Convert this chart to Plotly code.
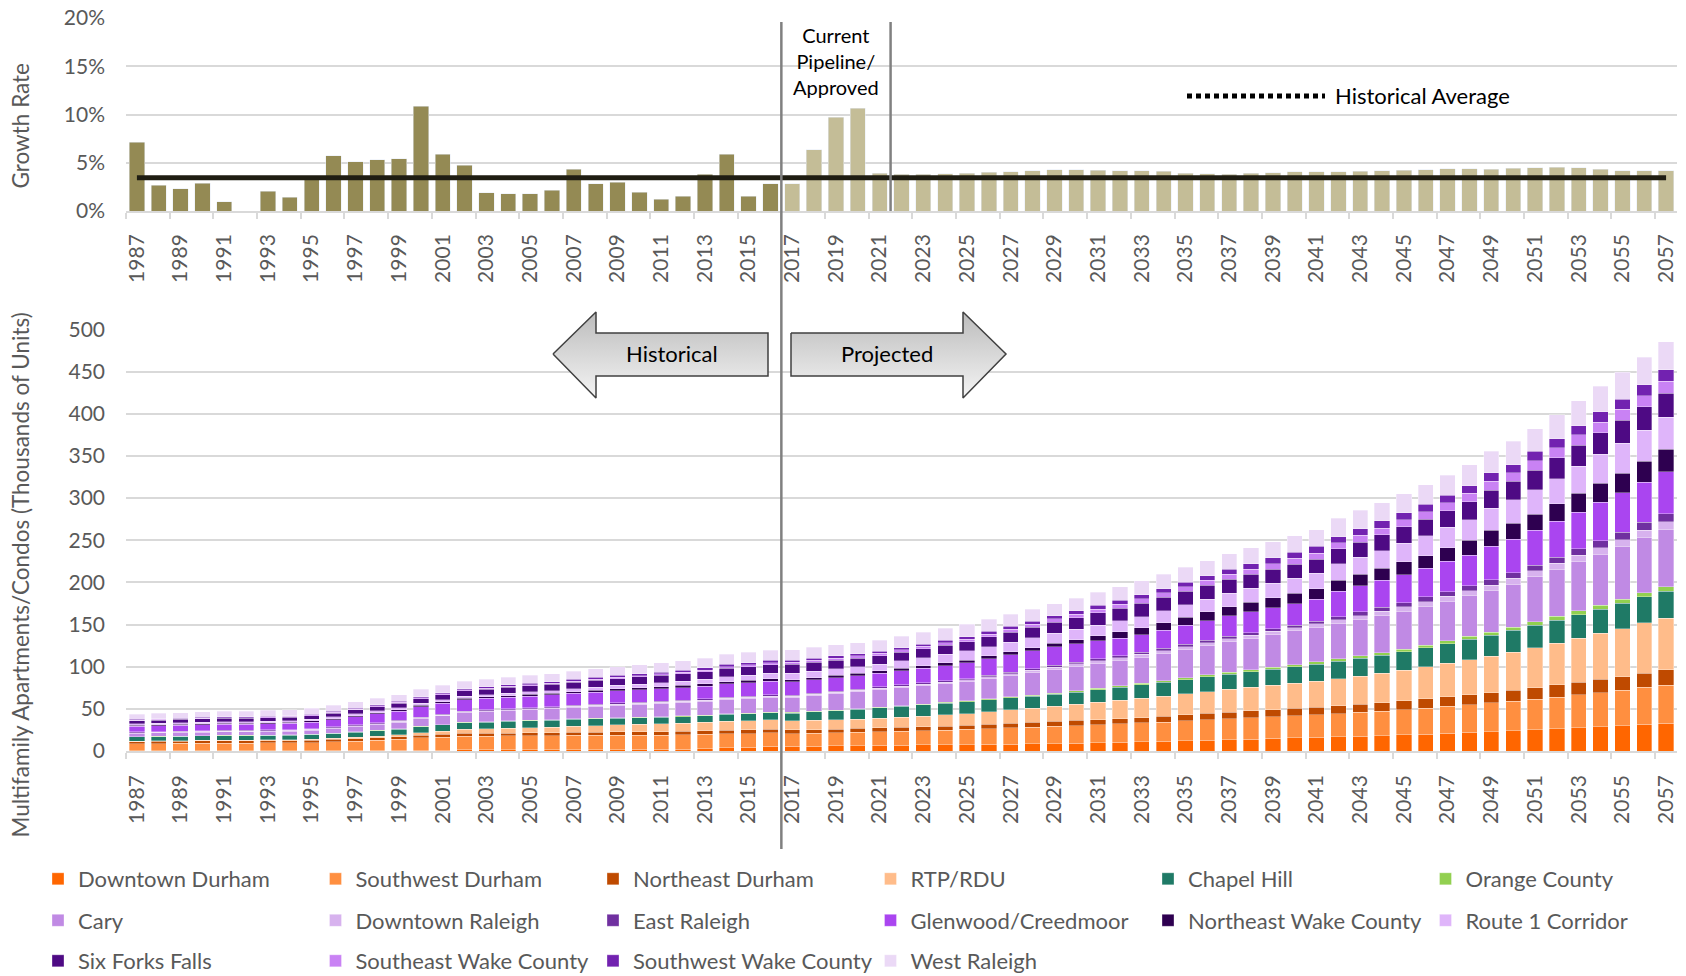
import plotly.graph_objects as go

FONT = "Lato, 'Open Sans', sans-serif"
TEXT_GRAY = "#595959"
GRID_GRAY = "#D9D9D9"

years = list(range(1987, 2058))
last_historical_year = 2016
pipeline_end_year = 2021

# Annual growth rate of the inventory, in percent
growth_rate = [
    7.1, 2.65, 2.3, 2.9, 0.95, 0.0, 2.05, 1.45, 3.6, 5.7,
    5.1, 5.3, 5.4, 10.85, 5.9, 4.75, 1.9, 1.8, 1.8, 2.15,
    4.35, 2.8, 3.0, 1.95, 1.2, 1.55, 3.8, 5.9, 1.55, 2.8,
    2.85, 6.35, 9.7, 10.65, 3.9, 3.8, 3.8, 3.85, 3.9, 4.0,
    4.05, 4.15, 4.25, 4.25, 4.2, 4.15, 4.15, 4.1, 3.9, 3.85,
    3.8, 3.9, 3.95, 4.05, 4.05, 4.05, 4.1, 4.15, 4.2, 4.3,
    4.4, 4.4, 4.35, 4.45, 4.5, 4.55, 4.5, 4.35, 4.15, 4.15,
    4.15,
]
historical_average = 3.45

# Multifamily apartments/condos by submarket, thousands of units (1987-2016 | 2017-2057)
downtown_durham = [
    0.3, 0.3, 0.3, 0.4, 0.4, 0.4, 0.4, 0.5, 0.5, 0.6, 0.7, 0.8, 0.9, 1.0, 1.1,
    1.2, 1.2, 1.3, 1.3, 1.4, 1.5, 1.6, 1.7, 1.8, 1.9, 2.1, 2.6, 4.0, 4.5, 5.5,
    5.6, 5.8, 6.0, 6.4, 6.8, 7.0, 7.2, 7.4, 7.6, 7.9, 8.2, 8.5, 8.8, 9.3, 9.8,
    10.4, 11.0, 11.6, 12.2, 12.9, 13.5, 14.2, 14.9, 15.6, 16.3, 16.9, 17.5, 18.2, 19.0, 20.0,
    21.0, 22.0, 23.0, 24.0, 25.0, 26.2, 27.5, 28.8, 30.2, 31.9, 33.0,
]
southwest_durham = [
    8.4, 8.6, 8.7, 8.9, 9.0, 9.0, 9.1, 9.2, 9.5, 10.2, 11.0, 12.0, 13.0, 14.5, 15.5,
    16.2, 16.3, 16.5, 16.6, 16.7, 17.0, 17.0, 17.1, 17.0, 17.0, 17.0, 17.0, 16.5, 16.2, 16.0,
    14.7, 15.1, 15.5, 15.9, 16.3, 16.7, 17.1, 17.5, 18.0, 18.5, 19.1, 19.7, 20.3, 20.8, 21.3,
    21.8, 22.3, 22.8, 23.4, 24.0, 24.5, 25.0, 25.6, 26.1, 26.7, 27.5, 28.3, 29.1, 30.0, 31.0,
    32.0, 33.0, 34.0, 35.2, 36.5, 37.8, 39.0, 40.5, 42.0, 43.8, 45.0,
]
northeast_durham = [
    2.4, 2.4, 2.5, 2.6, 2.6, 2.6, 2.7, 2.7, 2.8, 2.9, 3.0, 3.0, 3.1, 3.2, 3.3,
    3.4, 3.4, 3.5, 3.5, 3.6, 3.7, 3.8, 3.9, 4.0, 4.1, 4.2, 4.3, 4.4, 4.5, 4.6,
    4.7, 4.6, 4.5, 4.4, 4.4, 4.5, 4.6, 4.7, 4.8, 5.1, 5.4, 5.7, 6.0, 6.1, 6.2,
    6.3, 6.4, 6.8, 7.2, 7.6, 8.0, 8.3, 8.6, 8.9, 9.2, 9.5, 9.8, 10.2, 10.5, 11.0,
    11.5, 12.0, 12.4, 13.0, 13.6, 14.3, 15.0, 15.7, 16.0, 16.5, 18.3,
]
rtp_rdu = [
    0.6, 0.6, 0.7, 0.7, 0.8, 0.8, 0.9, 0.9, 1.0, 1.2, 1.5, 1.8, 2.2, 2.8, 3.5,
    4.8, 5.5, 5.8, 6.2, 6.6, 7.2, 7.8, 8.3, 8.8, 9.2, 9.6, 10.0, 10.5, 10.8, 11.0,
    10.8, 10.9, 11.0, 11.1, 11.2, 11.8, 12.5, 13.2, 14.0, 15.0, 16.0, 17.0, 18.0, 19.2, 20.4,
    21.5, 22.7, 23.8, 24.9, 26.0, 27.0, 28.0, 28.9, 29.8, 30.7, 32.0, 33.3, 34.6, 36.0, 37.7,
    39.4, 41.2, 43.0, 45.2, 47.5, 49.7, 52.0, 54.5, 57.0, 59.8, 61.4,
]
chapel_hill = [
    5.0, 5.1, 5.2, 5.3, 5.4, 5.4, 5.5, 5.6, 5.8, 6.0, 6.3, 6.6, 6.9, 7.2, 7.5,
    7.8, 8.0, 8.0, 8.0, 8.0, 8.0, 8.0, 8.0, 8.0, 8.0, 8.0, 8.0, 8.0, 8.0, 8.0,
    9.2, 10.0, 10.8, 11.6, 12.4, 12.9, 13.4, 13.9, 14.3, 14.3, 14.2, 14.1, 14.0, 14.5, 15.0,
    15.5, 16.0, 16.5, 17.0, 17.5, 18.0, 18.5, 19.0, 19.5, 20.0, 20.5, 21.0, 21.5, 22.0, 22.7,
    23.5, 24.2, 25.0, 25.7, 26.5, 27.2, 28.0, 28.9, 29.8, 30.7, 31.9,
]
orange_county = [
    0.3, 0.3, 0.3, 0.3, 0.3, 0.3, 0.3, 0.3, 0.4, 0.4, 0.4, 0.4, 0.5, 0.5, 0.5,
    0.5, 0.5, 0.6, 0.6, 0.6, 0.6, 0.6, 0.7, 0.7, 0.7, 0.7, 0.7, 0.8, 0.8, 0.8,
    0.8, 0.8, 0.8, 0.8, 0.8, 0.9, 0.9, 1.0, 1.0, 1.1, 1.2, 1.4, 1.5, 1.6, 1.7,
    1.9, 2.0, 2.1, 2.2, 2.3, 2.4, 2.5, 2.6, 2.7, 2.8, 2.9, 3.0, 3.1, 3.2, 3.3,
    3.4, 3.5, 3.6, 3.9, 4.2, 4.5, 4.8, 4.6, 5.0, 5.0, 5.2,
]
cary = [
    4.0, 4.1, 4.2, 4.3, 4.3, 4.3, 4.4, 4.5, 4.8, 5.5, 6.3, 7.0, 7.8, 9.0, 10.2,
    11.2, 11.8, 12.3, 12.8, 13.2, 13.8, 14.2, 14.6, 15.0, 15.4, 15.8, 16.2, 16.8, 17.2, 17.5,
    17.5, 18.4, 19.2, 20.1, 21.0, 21.4, 21.8, 22.2, 22.7, 24.0, 25.3, 26.6, 28.0, 28.8, 29.5,
    30.2, 31.0, 32.2, 33.5, 34.8, 36.0, 37.2, 38.5, 39.8, 41.0, 42.0, 43.0, 44.0, 45.0, 46.0,
    47.0, 48.0, 49.0, 51.0, 53.5, 56.0, 58.2, 60.6, 62.5, 66.0, 68.0,
]
downtown_raleigh = [
    0.8, 0.8, 0.8, 0.8, 0.8, 0.8, 0.9, 0.9, 0.9, 0.9, 1.0, 1.0, 1.0, 1.1, 1.1,
    1.2, 1.2, 1.2, 1.3, 1.3, 1.3, 1.4, 1.4, 1.4, 1.4, 1.5, 1.5, 1.5, 1.5, 1.6,
    1.6, 1.6, 1.7, 1.7, 1.8, 1.8, 1.9, 1.9, 2.0, 2.3, 2.5, 2.8, 3.0, 3.0, 3.1,
    3.1, 3.2, 3.3, 3.5, 3.6, 3.8, 3.8, 3.9, 3.9, 4.0, 4.4, 4.8, 5.2, 5.5, 5.6,
    5.9, 6.0, 6.6, 7.0, 7.0, 7.3, 7.6, 7.8, 8.0, 8.0, 9.2,
]
east_raleigh = [
    0.8, 0.8, 0.8, 0.8, 0.8, 0.8, 0.8, 0.8, 0.9, 0.9, 0.9, 1.0, 1.0, 1.0, 1.1,
    1.1, 1.1, 1.2, 1.2, 1.2, 1.3, 1.3, 1.3, 1.3, 1.4, 1.4, 1.4, 1.4, 1.5, 1.5,
    1.5, 1.5, 1.5, 1.5, 1.5, 1.5, 1.5, 1.6, 1.6, 1.7, 1.8, 1.9, 2.0, 2.1, 2.2,
    2.3, 2.4, 2.5, 2.7, 2.8, 3.0, 3.0, 3.1, 3.1, 3.2, 3.8, 4.4, 4.8, 4.6, 5.6,
    5.4, 6.2, 6.6, 6.5, 6.8, 6.6, 7.6, 8.0, 9.0, 9.6, 9.2,
]
glenwood_creedmoor = [
    6.8, 7.0, 7.1, 7.2, 7.3, 7.3, 7.4, 7.5, 7.7, 8.5, 9.5, 10.3, 11.0, 12.2, 12.8,
    13.2, 13.3, 13.5, 13.7, 13.9, 14.0, 14.2, 14.4, 14.6, 14.8, 15.0, 15.2, 15.6, 15.8, 16.0,
    15.5, 15.6, 15.7, 15.8, 16.0, 16.7, 17.3, 18.0, 18.7, 19.5, 20.3, 21.1, 22.0, 21.6, 21.3,
    21.0, 20.7, 21.5, 22.3, 23.1, 24.0, 24.5, 25.0, 25.5, 25.9, 29.9, 31.1, 31.9, 33.5, 33.9,
    35.9, 36.3, 39.4, 39.8, 41.0, 43.0, 43.8, 45.8, 46.6, 47.4, 49.8,
]
northeast_wake_county = [
    1.2, 1.2, 1.2, 1.3, 1.3, 1.3, 1.3, 1.3, 1.4, 1.4, 1.4, 1.5, 1.5, 1.6, 1.7,
    1.8, 1.8, 1.9, 2.0, 2.0, 2.1, 2.2, 2.3, 2.4, 2.5, 2.6, 2.7, 2.8, 2.9, 3.0,
    2.8, 2.8, 2.9, 2.9, 3.0, 3.0, 3.1, 3.1, 3.2, 3.4, 3.6, 3.8, 4.0, 5.2, 6.4,
    7.6, 8.8, 9.3, 9.9, 10.4, 11.0, 11.4, 11.8, 12.2, 12.7, 13.1, 13.5, 13.9, 15.1, 15.1,
    16.3, 17.5, 19.1, 18.7, 19.1, 20.7, 22.3, 22.7, 23.5, 25.0, 27.0,
]
route_1_corridor = [
    1.5, 1.5, 1.6, 1.6, 1.7, 1.7, 1.7, 1.8, 1.8, 1.9, 2.0, 2.1, 2.2, 2.3, 2.4,
    2.5, 2.6, 2.8, 3.0, 3.2, 3.5, 3.8, 4.1, 4.4, 4.7, 5.0, 5.4, 5.9, 6.2, 6.5,
    7.6, 7.7, 7.8, 7.9, 8.0, 8.7, 9.4, 10.1, 10.8, 11.1, 11.4, 11.7, 12.0, 12.2, 12.5,
    12.7, 13.0, 13.8, 14.5, 15.3, 16.0, 16.6, 17.1, 17.7, 18.3, 19.5, 19.9, 21.1, 21.9, 23.5,
    23.9, 24.7, 26.3, 27.9, 29.5, 29.9, 31.9, 33.9, 35.5, 37.0, 37.8,
]
six_forks_falls = [
    3.8, 3.9, 4.0, 4.0, 4.1, 4.1, 4.1, 4.2, 4.4, 4.6, 4.8, 5.1, 5.4, 5.8, 6.1,
    6.4, 6.6, 6.8, 7.0, 7.2, 7.5, 7.8, 8.1, 8.4, 8.6, 8.8, 9.2, 10.0, 10.3, 10.5,
    10.4, 10.3, 10.2, 10.1, 10.0, 10.2, 10.5, 10.7, 11.0, 11.5, 12.0, 12.5, 13.0, 13.8, 14.5,
    15.3, 16.0, 16.1, 16.2, 16.4, 16.5, 16.6, 16.6, 16.7, 16.7, 17.9, 18.3, 18.7, 19.5, 19.5,
    19.9, 21.1, 21.5, 21.9, 23.1, 24.7, 25.1, 25.9, 27.5, 27.9, 28.7,
]
southeast_wake_county = [
    0.8, 0.8, 0.8, 0.8, 0.8, 0.8, 0.9, 0.9, 0.9, 0.9, 1.0, 1.0, 1.1, 1.1, 1.2,
    1.2, 1.3, 1.3, 1.4, 1.4, 1.5, 1.5, 1.6, 1.6, 1.7, 1.7, 1.8, 1.9, 1.9, 2.0,
    2.4, 2.5, 2.6, 2.6, 2.7, 2.8, 2.8, 2.9, 3.0, 3.2, 3.5, 3.7, 4.0, 4.2, 4.5,
    4.7, 5.0, 5.2, 5.5, 5.7, 6.0, 6.3, 6.6, 6.9, 7.2, 7.2, 8.0, 8.0, 8.4, 8.8,
    9.2, 10.0, 10.4, 10.0, 11.2, 11.6, 12.4, 12.4, 12.7, 12.7, 14.0,
]
southwest_wake_county = [
    0.8, 0.8, 0.9, 0.9, 0.9, 0.9, 1.0, 1.0, 1.0, 1.1, 1.1, 1.2, 1.2, 1.3, 1.4,
    1.5, 1.5, 1.6, 1.7, 1.8, 1.9, 2.0, 2.1, 2.2, 2.3, 2.4, 2.5, 2.7, 2.8, 3.0,
    2.4, 2.5, 2.5, 2.6, 2.7, 2.8, 2.8, 2.9, 3.0, 3.2, 3.5, 3.7, 4.0, 4.2, 4.4,
    4.6, 4.8, 5.1, 5.4, 5.7, 6.0, 6.5, 7.0, 7.5, 8.0, 7.2, 8.0, 8.8, 8.4, 8.8,
    9.2, 8.8, 10.0, 10.0, 10.8, 10.8, 10.8, 12.4, 12.0, 13.0, 14.0,
]
west_raleigh = [
    6.3, 6.4, 6.5, 6.6, 6.6, 6.6, 6.7, 6.8, 6.9, 7.1, 7.3, 7.6, 8.0, 8.4, 8.7,
    9.0, 9.1, 9.3, 9.5, 9.6, 9.9, 10.2, 10.5, 10.7, 10.9, 11.1, 11.4, 11.8, 12.0, 12.3,
    12.7, 12.9, 13.1, 13.3, 13.0, 13.4, 13.9, 14.3, 14.7, 14.5, 14.2, 14.1, 14.0, 14.7, 15.3,
    16.0, 16.7, 17.0, 17.3, 17.7, 18.0, 18.5, 19.0, 19.4, 19.9, 21.9, 21.5, 21.5, 22.3, 23.1,
    23.9, 25.1, 25.5, 27.5, 27.1, 28.3, 29.5, 30.3, 31.9, 33.0, 33.0,
]

submarkets = [
    ("Downtown Durham", "#FF6600", downtown_durham),
    ("Southwest Durham", "#FF8F40", southwest_durham),
    ("Northeast Durham", "#BF4A00", northeast_durham),
    ("RTP/RDU", "#FFBC8A", rtp_rdu),
    ("Chapel Hill", "#1F7A66", chapel_hill),
    ("Orange County", "#92D050", orange_county),
    ("Cary", "#C08AE4", cary),
    ("Downtown Raleigh", "#D7B2EE", downtown_raleigh),
    ("East Raleigh", "#7030A0", east_raleigh),
    ("Glenwood/Creedmoor", "#AA45F0", glenwood_creedmoor),
    ("Northeast Wake County", "#2E0050", northeast_wake_county),
    ("Route 1 Corridor", "#DFB5FA", route_1_corridor),
    ("Six Forks Falls", "#4E0A84", six_forks_falls),
    ("Southeast Wake County", "#C982F4", southeast_wake_county),
    ("Southwest Wake County", "#7222B0", southwest_wake_county),
    ("West Raleigh", "#EBD9F6", west_raleigh),
]
for _, _, values in submarkets:
    assert len(values) == len(years)
assert len(growth_rate) == len(years)

# ---- canvas geometry (pixels) ----
W, H = 1686, 976
M_L, M_R, M_T, M_B = 126, 9, 18, 225
PLOT_W = W - M_L - M_R
PLOT_H = H - M_T - M_B
X_RANGE = [years[0] - 0.5, years[-1] + 0.5]


def px_x(px):
    return (px - M_L) / PLOT_W


def px_y(px):
    return (H - M_B - px) / PLOT_H


def year_to_paper(year):
    return (year - X_RANGE[0]) / (X_RANGE[1] - X_RANGE[0])


top_domain = [px_y(211), 1.0]
bottom_domain = [0.0, px_y(329.5)]

fig = go.Figure()

# ---- growth rate panel ----
hist_idx = [i for i, y in enumerate(years) if y <= last_historical_year]
proj_idx = [i for i, y in enumerate(years) if y > last_historical_year]
fig.add_trace(go.Bar(
    x=[years[i] for i in hist_idx], y=[growth_rate[i] / 100 for i in hist_idx],
    marker=dict(color="#948A54"), xaxis="x", yaxis="y", showlegend=False,
    name="Historical growth",
))
fig.add_trace(go.Bar(
    x=[years[i] for i in proj_idx], y=[growth_rate[i] / 100 for i in proj_idx],
    marker=dict(color="#C4BD97"), xaxis="x", yaxis="y", showlegend=False,
    name="Projected growth",
))
fig.add_trace(go.Scatter(
    x=[years[0], years[-1]], y=[historical_average / 100] * 2,
    mode="lines", line=dict(color="#1F1D12", width=5),
    xaxis="x", yaxis="y", showlegend=False, name="Historical Average",
))

# ---- stacked inventory panel ----
legend_rows = ["legend"] * 6 + ["legend2"] * 6 + ["legend3"] * 4
for (name, color, values), legend_id in zip(submarkets, legend_rows):
    fig.add_trace(go.Bar(
        x=years, y=values, name=name,
        marker=dict(color=color, line=dict(color="rgba(255,255,255,0.55)", width=0.6)),
        xaxis="x2", yaxis="y2", legend=legend_id,
    ))

# ---- Historical / Projected arrows on a pixel-space overlay ----
left_arrow_x = [553, 596, 596, 768, 768, 596, 596, 553]
left_arrow_y = [354, 312, 333, 333, 376, 376, 398, 354]
right_arrow_x = [791, 963, 963, 1006, 963, 963, 791, 791]
right_arrow_y = [333, 333, 312, 354, 398, 376, 376, 333]
for ax_x, ax_y in ((left_arrow_x, left_arrow_y), (right_arrow_x, right_arrow_y)):
    fig.add_trace(go.Scatter(
        x=ax_x, y=ax_y, mode="lines", fill="toself",
        fillgradient=dict(type="vertical", colorscale=[[0, "#F4F4F4"], [1, "#BCBCBC"]]),
        line=dict(color="#404040", width=1.5),
        xaxis="x3", yaxis="y3", showlegend=False, hoverinfo="skip",
    ))

odd_years = [y for y in years if y % 2 == 1]
boundary_ticks = [y - 0.5 for y in years if y % 2 == 1]

common_x = dict(
    range=X_RANGE, tickmode="array", tickvals=odd_years,
    ticktext=[str(y) for y in odd_years], tickangle=-90,
    ticks="", showgrid=False, zeroline=False,
    showline=True, linecolor=GRID_GRAY, linewidth=1.5,
    tickfont=dict(family=FONT, size=21, color=TEXT_GRAY),
    minor=dict(tickmode="array", tickvals=boundary_ticks, ticks="outside",
               ticklen=6, tickwidth=1.5, tickcolor=GRID_GRAY),
)
common_y = dict(
    showgrid=True, gridcolor=GRID_GRAY, gridwidth=1.5, zeroline=False,
    ticks="", tickfont=dict(family=FONT, size=21, color=TEXT_GRAY),
    ticklabelstandoff=20,
)

fig.update_layout(
    width=W, height=H,
    margin=dict(l=M_L, r=M_R, t=M_T, b=M_B, autoexpand=False),
    paper_bgcolor="white", plot_bgcolor="rgba(0,0,0,0)",
    barmode="stack", bargap=0.3,
    font=dict(family=FONT, color=TEXT_GRAY, size=21),
    xaxis=dict(domain=[0, 1], anchor="y", ticklabelstandoff=13, **common_x),
    yaxis=dict(domain=top_domain, anchor="x", range=[0, 0.2],
               tickvals=[0, 0.05, 0.10, 0.15, 0.20], tickformat=".0%", **common_y),
    xaxis2=dict(domain=[0, 1], anchor="y2", ticklabelstandoff=14, **common_x),
    yaxis2=dict(domain=bottom_domain, anchor="x2", range=[0, 500], dtick=50, **common_y),
    xaxis3=dict(domain=[0, 1], anchor="y3", range=[M_L, W - M_R], visible=False),
    yaxis3=dict(domain=[0, 1], anchor="x3", range=[H - M_B, M_T], visible=False),
    showlegend=True,
)

# Axis titles
fig.add_annotation(x=px_x(19.5), y=px_y(125), xref="paper", yref="paper",
                   xanchor="center", yanchor="middle",
                   text="Growth Rate", textangle=-90, showarrow=False,
                   font=dict(family=FONT, size=22.5, color=TEXT_GRAY))
fig.add_annotation(x=px_x(19.5), y=px_y(575), xref="paper", yref="paper",
                   xanchor="center", yanchor="middle",
                   text="Multifamily Apartments/Condos (Thousands of Units)",
                   textangle=-90, showarrow=False,
                   font=dict(family=FONT, size=22.5, color=TEXT_GRAY))

legend_style = dict(
    orientation="h", xanchor="left", yanchor="middle",
    xref="paper", yref="paper",
    entrywidth=232.5, entrywidthmode="pixels",
    font=dict(family=FONT, size=22, color=TEXT_GRAY),
    bgcolor="rgba(0,0,0,0)", borderwidth=0, traceorder="normal",
)
fig.update_layout(
    legend=dict(x=px_x(38), y=px_y(879), **legend_style),
    legend2=dict(x=px_x(38), y=px_y(920.5), **legend_style),
    legend3=dict(x=px_x(38), y=px_y(961), **legend_style),
)

# ---- period separators ----
fig.add_shape(type="line", xref="paper", yref="paper",
              x0=year_to_paper(last_historical_year + 0.5), x1=year_to_paper(last_historical_year + 0.5),
              y0=px_y(849), y1=px_y(22), line=dict(color="#808080", width=2.5))
fig.add_shape(type="line", xref="paper", yref="paper",
              x0=year_to_paper(pipeline_end_year + 0.5), x1=year_to_paper(pipeline_end_year + 0.5),
              y0=top_domain[0], y1=px_y(22), line=dict(color="#808080", width=2.5))

fig.add_annotation(
    x=year_to_paper((last_historical_year + pipeline_end_year + 1) / 2), y=px_y(60.5),
    xref="paper", yref="paper", text="Current<br>Pipeline/<br>Approved",
    showarrow=False, xanchor="center", yanchor="middle",
    font=dict(family=FONT, size=20, color="black"),
)

# Historical average key
fig.add_shape(type="line", xref="paper", yref="paper",
              x0=px_x(1187), x1=px_x(1325), y0=px_y(96), y1=px_y(96),
              line=dict(color="black", width=5, dash="5px,4px"))
fig.add_annotation(x=px_x(1333), y=px_y(95.5), xref="paper", yref="paper",
                   text="Historical Average", showarrow=False,
                   xanchor="left", yanchor="middle",
                   font=dict(family=FONT, size=22, color="black"))

fig.add_annotation(x=671.5, y=353, xref="x3", yref="y3", text="Historical",
                   showarrow=False, font=dict(family=FONT, size=22, color="black"))
fig.add_annotation(x=887, y=353, xref="x3", yref="y3", text="Projected",
                   showarrow=False, font=dict(family=FONT, size=22, color="black"))

fig.write_html("out.html")
